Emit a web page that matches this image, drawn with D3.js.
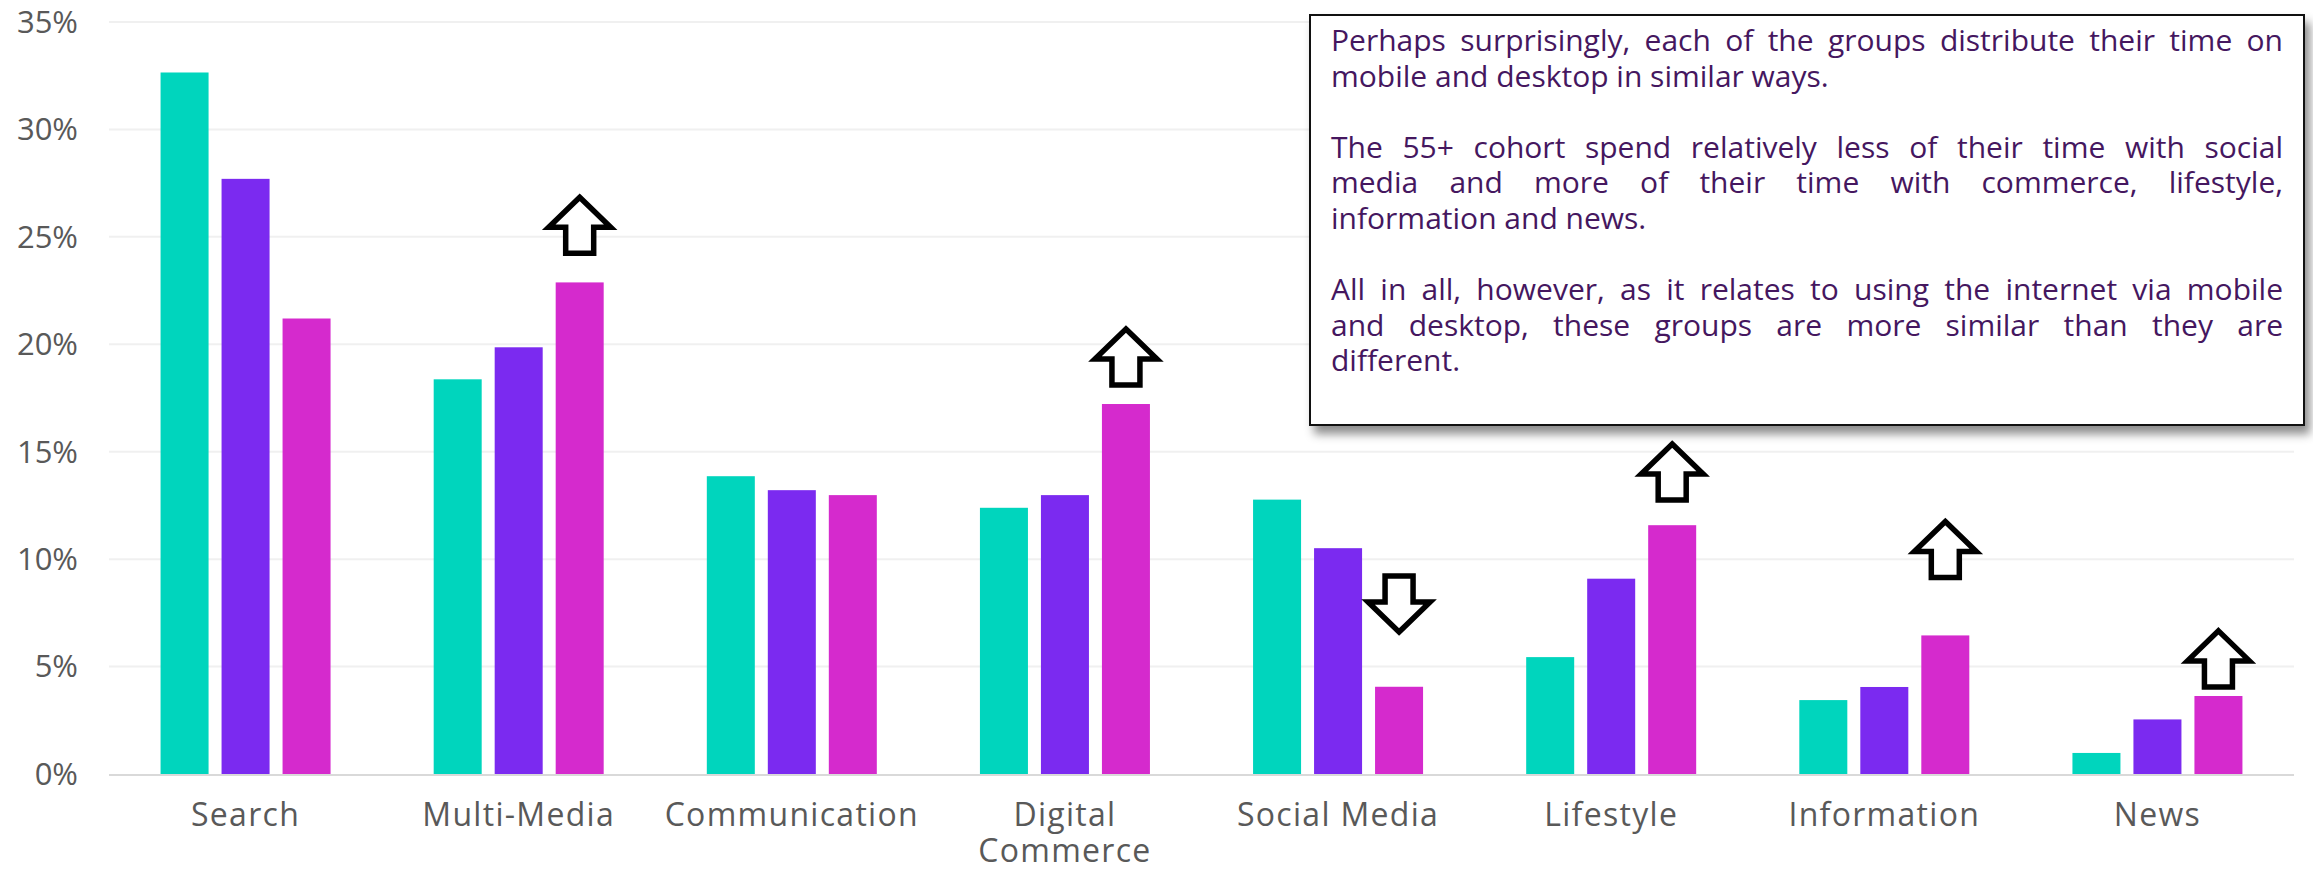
<!DOCTYPE html>
<html>
<head>
<meta charset="utf-8">
<script src="https://cdn.jsdelivr.net/npm/d3@7"></script>
<style>
  html, body { margin: 0; padding: 0; background: #fff; }
  #wrap { position: relative; width: 2313px; height: 870px; overflow: hidden; }
  svg { position: absolute; left: 0; top: 0; }
  .note {
    position: absolute; box-sizing: border-box;
    background: #fff; border: 2px solid #111;
    box-shadow: 5px 8px 9px rgba(0,0,0,0.45);
    font-family: "Open Sans", sans-serif; font-size: 30px; color: #45175f;
    padding: 6px 20px 0 20px;
  }
  .note .ln { line-height: 35.6px; height: 35.6px; white-space: nowrap; }
  .note .j { text-align: justify; text-align-last: justify; white-space: normal; }
</style>
</head>
<body>
<div id="wrap"></div>
<script>
// ---- data ----
const categories = ["Search", "Multi-Media", "Communication", "Digital Commerce", "Social Media", "Lifestyle", "Information", "News"];
const categoryLines = [["Search"], ["Multi-Media"], ["Communication"], ["Digital", "Commerce"], ["Social Media"], ["Lifestyle"], ["Information"], ["News"]];
const seriesNames = ["18-34", "35-54", "55+"];
const seriesColors = ["#00d5bd", "#7b2af0", "#d52acd"];
const values18to34 = [32.65, 18.37, 13.86, 12.39, 12.77, 5.44, 3.44, 0.98];
const values35to54 = [27.7, 19.86, 13.21, 12.98, 10.51, 9.09, 4.05, 2.54];
const values55plus = [21.2, 22.88, 12.98, 17.22, 4.06, 11.58, 6.45, 3.63];
const tickValues = [0, 5, 10, 15, 20, 25, 30, 35];
const arrowCategories = ["Multi-Media", "Digital Commerce", "Social Media", "Lifestyle", "Information", "News"];
const arrowTips = [26.98, 20.85, 6.47, 15.5, 11.89, 6.8];
const arrowDirections = ["up", "up", "down", "up", "up", "up"];
const noteLines = [
  ["Perhaps surprisingly, each of the groups distribute their time on", true],
  ["mobile and desktop in similar ways.", false],
  ["", false],
  ["The 55+ cohort spend relatively less of their time with social", true],
  ["media and more of their time with commerce, lifestyle,", true],
  ["information and news.", false],
  ["", false],
  ["All in all, however, as it relates to using the internet via mobile", true],
  ["and desktop, these groups are more similar than they are", true],
  ["different.", false]
];

const seriesValues = [values18to34, values35to54, values55plus];

// ---- layout ----
const W = 2313, H = 870;
const plotLeft = 109, plotRight = 2294, plotTop = 22, plotBottom = 774;

const wrap = d3.select("#wrap");
const svg = wrap.append("svg").attr("width", W).attr("height", H);

const stepW = (plotRight - plotLeft) / categories.length;
const pIn = 1 - 170 / stepW;
const x0 = d3.scaleBand().domain(categories).range([plotLeft, plotRight])
  .paddingInner(pIn).paddingOuter(pIn / 2);
const x1 = d3.scaleBand().domain(seriesNames).range([0, x0.bandwidth()]).paddingInner(0.213).paddingOuter(0);
const y = d3.scaleLinear().domain([0, 35]).range([plotBottom, plotTop]);

// gridlines
svg.append("g").selectAll("line").data(tickValues.filter(d => d > 0)).join("line")
  .attr("x1", plotLeft).attr("x2", plotRight)
  .attr("y1", d => y(d)).attr("y2", d => y(d))
  .attr("stroke", "#f0f0f0").attr("stroke-width", 2);

// y tick labels
svg.append("g").selectAll("text").data(tickValues).join("text")
  .attr("x", 78).attr("y", d => y(d)).attr("dy", "0.35em")
  .attr("text-anchor", "end")
  .attr("font-family", "Open Sans, sans-serif").attr("font-size", 31)
  .attr("fill", "#595959")
  .text(d => d + "%");

// bars
const groups = svg.append("g").selectAll("g").data(categories).join("g")
  .attr("transform", c => `translate(${x0(c)},0)`);
groups.selectAll("rect")
  .data((c, i) => seriesNames.map((s, k) => ({ s, k, v: seriesValues[k][i] })))
  .join("rect")
  .attr("x", d => x1(d.s)).attr("width", x1.bandwidth())
  .attr("y", d => y(d.v)).attr("height", d => y(0) - y(d.v))
  .attr("fill", d => seriesColors[d.k]);

// baseline
svg.append("line").attr("x1", plotLeft).attr("x2", plotRight)
  .attr("y1", y(0) + 1).attr("y2", y(0) + 1)
  .attr("stroke", "#d9d9d9").attr("stroke-width", 2);

// category labels
const lab = svg.append("g").selectAll("text").data(categories).join("text")
  .attr("x", c => x0(c) + x0.bandwidth() / 2)
  .attr("y", 826)
  .attr("text-anchor", "middle")
  .attr("font-family", "Open Sans, sans-serif").attr("font-size", 32)
  .attr("letter-spacing", 1.3)
  .attr("fill", "#595959");
lab.selectAll("tspan").data((c, i) => categoryLines[i]).join("tspan")
  .attr("x", function() { return d3.select(this.parentNode).attr("x"); })
  .attr("dy", (d, i) => i === 0 ? 0 : 36)
  .text(d => d);

// arrows
const hw = 31, headH = 30, sw = 14, len = 56;
const upPath = `M0,0 L${hw},${headH} L${sw},${headH} L${sw},${len} L${-sw},${len} L${-sw},${headH} L${-hw},${headH} Z`;
svg.append("g").selectAll("path").data(arrowCategories).join("path")
  .attr("d", upPath)
  .attr("transform", (c, i) => {
    const cx = x0(c) + x1("55+") + x1.bandwidth() / 2;
    const ty = y(arrowTips[i]);
    return arrowDirections[i] === "up"
      ? `translate(${cx},${ty + 3})`
      : `translate(${cx},${ty - 3}) scale(1,-1)`;
  })
  .attr("fill", "#fff").attr("stroke", "#000").attr("stroke-width", 5.5)
  .attr("stroke-linejoin", "miter");

// annotation box
const note = wrap.append("div").attr("class", "note")
  .style("left", "1309px").style("top", "14px")
  .style("width", (2305 - 1309) + "px").style("height", (426 - 14) + "px");
note.selectAll("div").data(noteLines).join("div")
  .attr("class", d => d[1] ? "ln j" : "ln")
  .html(d => d[0] === "" ? "&nbsp;" : d[0]);
</script>
</body>
</html>
